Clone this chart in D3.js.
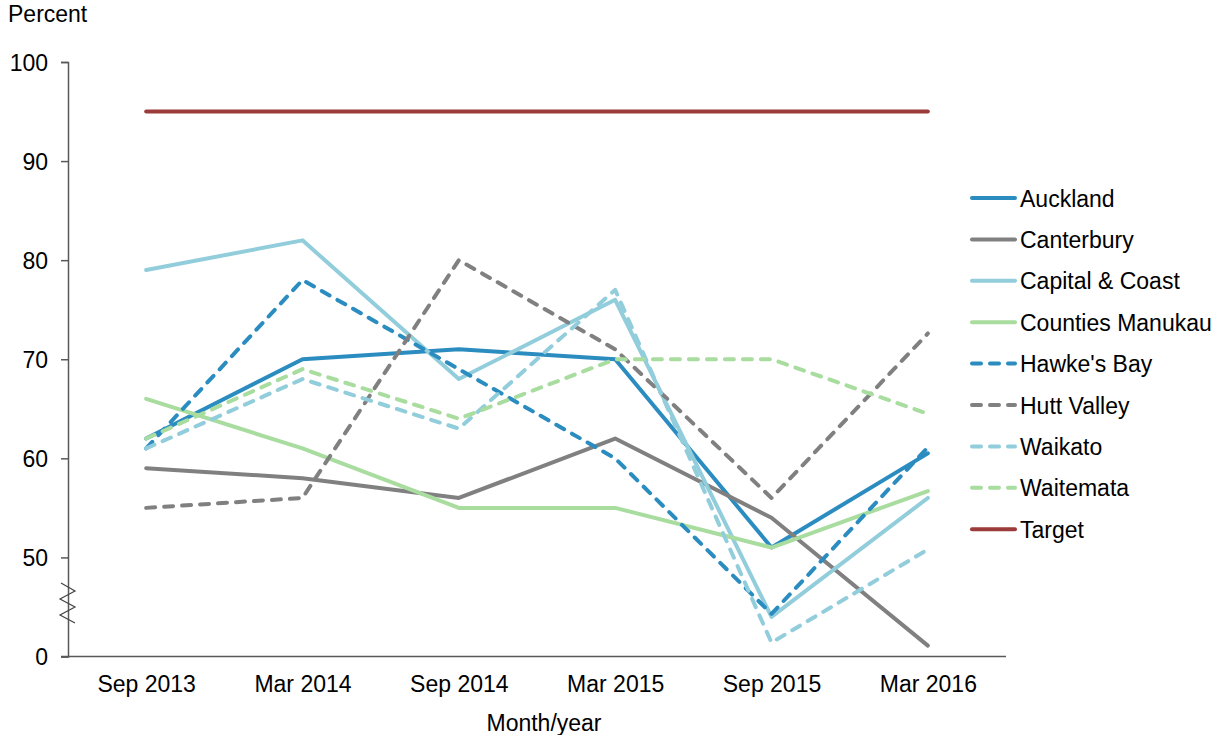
<!DOCTYPE html>
<html>
<head>
<meta charset="utf-8">
<script src="https://cdn.jsdelivr.net/npm/d3@7/dist/d3.min.js"></script>
<style>
  html, body { margin: 0; padding: 0; background: #fff; overflow: hidden; }
  svg { display: block; }
  text { font-family: "Liberation Sans", Arial, sans-serif; fill: #000; }
</style>
</head>
<body>
<svg id="chart" width="1213" height="735"></svg>
<script>
// ---- Data ----
const categories = ["Sep 2013", "Mar 2014", "Sep 2014", "Mar 2015", "Sep 2015", "Mar 2016"];
const yTickValues = [40, 50, 60, 70, 80, 90, 100];
const yTickLabels = ["0", "50", "60", "70", "80", "90", "100"]; // axis broken below 50

const auckland        = [62, 70, 71, 70, 51, 60.5];
const canterbury      = [59, 58, 56, 62, 54, 41.1];
const capitalCoast    = [79, 82, 68, 76, 44, 56];
const countiesManukau = [66, 61, 55, 55, 51, 56.7];
const hawkesBay       = [61, 78, 69, 60, 44.3, 61.1];
const huttValley      = [55, 56, 80, 71, 56, 72.6];
const waikato         = [61, 68, 63, 77, 41.4, 50.8];
const waitemata       = [62, 69, 64, 70, 70, 64.5];
const target          = [95, 95, 95, 95, 95, 95];

const seriesNames = ["Auckland", "Canterbury", "Capital & Coast", "Counties Manukau",
  "Hawke's Bay", "Hutt Valley", "Waikato", "Waitemata", "Target"];
const seriesValues = [auckland, canterbury, capitalCoast, countiesManukau,
  hawkesBay, huttValley, waikato, waitemata, target];
const seriesColors = ["#2b8cc0", "#808080", "#92cddc", "#a9dc9f",
  "#2b8cc0", "#808080", "#92cddc", "#a9dc9f", "#9b3b3a"];
const seriesDashed = [false, false, false, false, true, true, true, true, false];

// ---- Layout ----
const FS = 23;
const svg = d3.select("#chart");
const x = d3.scalePoint().domain(categories).range([68, 1006]).padding(0.5);
const y = d3.scaleLinear().domain([40, 100]).range([656.5, 62]);
const axisColor = "#595959";

// Y axis
const yAxis = d3.axisLeft(y).tickValues(yTickValues)
  .tickFormat((d, i) => yTickLabels[i]).tickSize(7).tickPadding(13);
const gy = svg.append("g").attr("transform", "translate(68,0)").call(yAxis);
gy.select(".domain").attr("stroke", axisColor).attr("stroke-width", 1.5);
gy.selectAll(".tick line").attr("stroke", axisColor).attr("stroke-width", 1.5);
gy.selectAll(".tick text").attr("font-size", FS).attr("fill", "#000").attr("dy", "0.35em")
  .style("font-family", '"Liberation Sans", Arial, sans-serif');

// X axis
const xAxis = d3.axisBottom(x).tickSize(0).tickPadding(19);
const gx = svg.append("g").attr("transform", "translate(0,656.5)").call(xAxis);
gx.select(".domain").attr("stroke", axisColor).attr("stroke-width", 1.5)
  .attr("d", "M61,0H1006");
gx.selectAll(".tick text").attr("font-size", FS).attr("fill", "#000")
  .style("font-family", '"Liberation Sans", Arial, sans-serif');

// Axis break zigzag
svg.append("path")
  .attr("d", "M61,583L75,591L60,599L75,607L60,615L75,623")
  .attr("fill", "none").attr("stroke", "#444").attr("stroke-width", 1.2);

// Axis titles
svg.append("text").attr("x", 8).attr("y", 21.5).attr("font-size", FS).text("Percent");
svg.append("text").attr("x", 544).attr("y", 731).attr("font-size", FS)
  .attr("text-anchor", "middle").text("Month/year");

// Lines
const line = d3.line().x((d, i) => x(categories[i])).y(d => y(d));
const gl = svg.append("g");
seriesValues.forEach((vals, k) => {
  gl.append("path")
    .attr("d", line(vals))
    .attr("fill", "none")
    .attr("stroke", seriesColors[k])
    .attr("stroke-width", 4)
    .attr("stroke-linejoin", "round")
    .attr("stroke-linecap", "round")
    .attr("stroke-dasharray", seriesDashed[k] ? "9,9" : null);
});

// Legend
const lg = svg.append("g");
seriesNames.forEach((name, k) => {
  const yy = 198 + k * 41.4;
  lg.append("line").attr("x1", 972).attr("x2", 1015).attr("y1", yy).attr("y2", yy)
    .attr("stroke", seriesColors[k]).attr("stroke-width", 4)
    .attr("stroke-linecap", "round")
    .attr("stroke-dasharray", seriesDashed[k] ? "9,9" : null);
  lg.append("text").attr("x", 1020).attr("y", yy + 8.5).attr("font-size", FS).text(name);
});
</script>
</body>
</html>
